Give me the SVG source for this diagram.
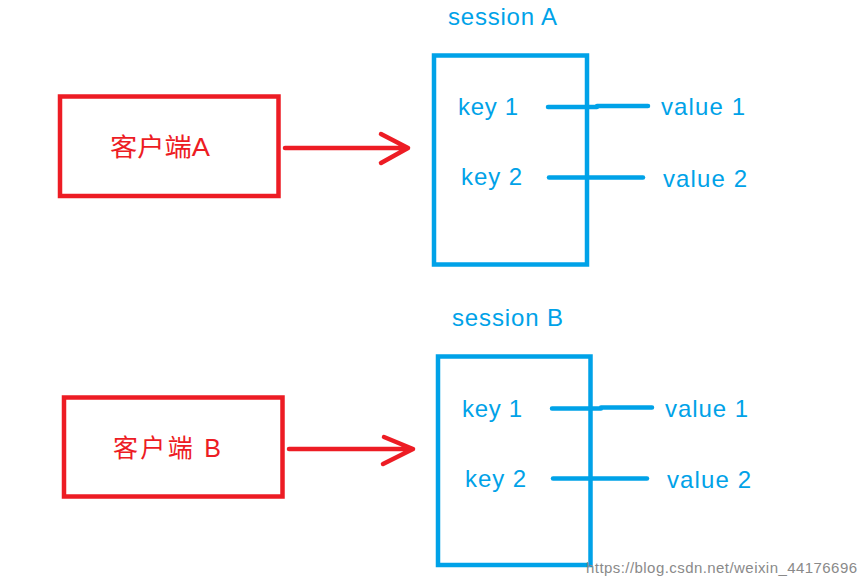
<svg xmlns="http://www.w3.org/2000/svg" width="866" height="585" viewBox="0 0 866 585">
<style>
.red{fill:none;stroke:#ED1C24;stroke-width:4.5}
.blue{fill:none;stroke:#00A2E8;stroke-width:4.5}
.arrow{fill:none;stroke:#ED1C24;stroke-width:4.5;stroke-linecap:round;stroke-linejoin:round}
.kv{fill:none;stroke:#00A2E8;stroke-width:4.5;stroke-linecap:round}
.rt{fill:#ED1C24;font-family:"Liberation Sans","Noto Sans CJK SC",sans-serif;font-size:25px}
.bt{fill:#00A2E8;font-family:"Liberation Sans","Noto Sans CJK SC",sans-serif;font-size:24px}
.wm{fill:#8a8a8a;font-family:"Liberation Sans",sans-serif;font-size:15px}
</style>
<rect width="866" height="585" fill="#ffffff"/>
<g id="clientA">
<rect class="red" x="60" y="96.5" width="218.5" height="99.5"/>
<text class="rt" x="110" y="156" textLength="100" lengthAdjust="spacingAndGlyphs">客户端A</text>
</g>
<g id="clientB">
<rect class="red" x="64" y="397.5" width="218.5" height="99"/>
<text class="rt" x="113" y="457" textLength="108" lengthAdjust="spacing">客户端 B</text>
</g>
<g id="sessionA">
<text class="bt" x="448" y="25" textLength="109" lengthAdjust="spacing">session A</text>
<rect class="blue" x="434" y="55.5" width="153" height="209"/>
<text class="bt" x="458" y="115" textLength="60" lengthAdjust="spacing">key 1</text>
<text class="bt" x="461" y="185" textLength="61" lengthAdjust="spacing">key 2</text>
</g>
<g id="sessionB">
<text class="bt" x="452" y="326" textLength="111" lengthAdjust="spacing">session  B</text>
<rect class="blue" x="438" y="356.5" width="152.5" height="208.5"/>
<text class="bt" x="462" y="417" textLength="60" lengthAdjust="spacing">key 1</text>
<text class="bt" x="465" y="487" textLength="61" lengthAdjust="spacing">key 2</text>
</g>
<g id="valuesA">
<text class="bt" x="661" y="115" textLength="84" lengthAdjust="spacing">value 1</text>
<text class="bt" x="663" y="187" textLength="84" lengthAdjust="spacing">value 2</text>
</g>
<g id="valuesB">
<text class="bt" x="665" y="417" textLength="83" lengthAdjust="spacing">value 1</text>
<text class="bt" x="667" y="488" textLength="84" lengthAdjust="spacing">value 2</text>
</g>
<g id="connectors">
<path class="arrow" d="M285,148 L408,148 M381,134 L408,148 L381,163"/>
<path class="arrow" d="M289,449 L413,449 M384,437 L413,449 L383,464"/>
<path class="kv" d="M548,107 L597,107 M597,106 L648,106"/>
<path class="kv" d="M549,177.5 L643,177.5"/>
<path class="kv" d="M552,408.5 L601,408.5 M601,407.5 L652,407.5"/>
<path class="kv" d="M553,478.5 L647,478.5"/>
</g>
<text class="wm" x="586" y="573" textLength="271" lengthAdjust="spacing">https://blog.csdn.net/weixin_44176696</text>
</svg>
